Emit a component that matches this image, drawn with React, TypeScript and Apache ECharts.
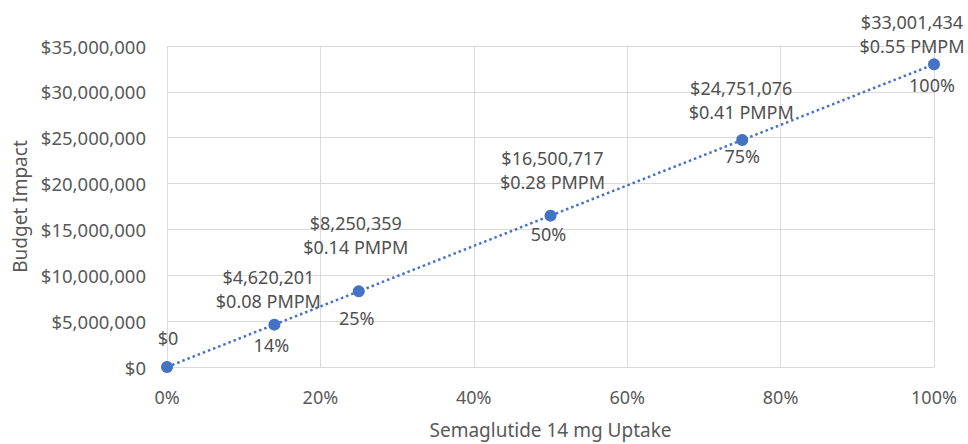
import React, { useEffect, useRef } from "react";
import * as echarts from "echarts";

const uptake = [0, 14, 25, 50, 75, 100];
const budget = [0, 4620201, 8250359, 16500717, 24751076, 33001434];
const pmpm = [null, "0.08", "0.14", "0.28", "0.41", "0.55"];
const yTicks = [0, 5000000, 10000000, 15000000, 20000000, 25000000, 30000000, 35000000];

// label centre offsets (pixels) from each marker, mimicking hand-placed labels
const topNudge: number[][] = [[1, -29], [-6, -36], [-3, -56], [2, -46], [-1, -40], [-22, -30]];
const bottomNudge: number[][] = [[0, 20], [-3, 20], [-2, 27], [-2, 18], [0, 16], [-2, 21]];

const fmtMoney = (v: number) => "$" + Math.round(v).toLocaleString("en-US");

export default function App() {
  const ref = useRef<HTMLDivElement>(null);
  useEffect(() => {
    const chart = echarts.init(ref.current!, null, { renderer: "svg" });
    const font = "'Noto Sans', sans-serif";
    const blue = "#4472C4";
    const textColor = "#505050";
    const topData = uptake.map((u, i) => ({
      value: [u, budget[i]],
      label: {
        offset: topNudge[i],
        formatter: pmpm[i] ? `${fmtMoney(budget[i])}\n$${pmpm[i]} PMPM` : fmtMoney(budget[i]),
      },
    }));
    const bottomData = uptake.map((u, i) => ({
      value: [u, budget[i]],
      label: { offset: bottomNudge[i], show: i > 0 },
    }));
    chart.setOption({
      animation: false,
      grid: { left: 167, right: 34, top: 46, bottom: 72 },
      xAxis: {
        type: "value",
        min: 0,
        max: 100,
        interval: 20,
        name: "Semaglutide 14 mg Uptake",
        nameLocation: "middle",
        nameGap: 53,
        nameTextStyle: { fontFamily: font, fontSize: 19, color: "#595959" },
        axisLine: { show: true, lineStyle: { color: "#d9d9d9" } },
        axisTick: { show: false },
        axisLabel: { formatter: (v: number) => v + "%", fontFamily: font, fontSize: 18, color: "#595959", margin: 21 },
        splitLine: { show: true, lineStyle: { color: "#d9d9d9" } },
      },
      yAxis: {
        type: "value",
        min: 0,
        max: 35000000,
        interval: 5000000,
        name: "Budget Impact",
        nameLocation: "middle",
        nameGap: 137,
        nameTextStyle: { fontFamily: font, fontSize: 19, color: "#595959" },
        axisLine: { show: false },
        axisTick: { show: false },
        axisLabel: {
          formatter: (v: number) => (yTicks.includes(v) ? fmtMoney(v) : ""),
          fontFamily: font,
          fontSize: 18.5,
          color: "#595959",
          margin: 21,
        },
        splitLine: { show: true, lineStyle: { color: "#d9d9d9" } },
      },
      series: [
        {
          type: "line",
          data: [
            [uptake[0], budget[0]],
            [uptake[uptake.length - 1], budget[budget.length - 1]],
          ],
          symbol: "none",
          lineStyle: { color: blue, width: 2.5, type: [2.5, 3] },
          z: 1,
          silent: true,
        },
        {
          type: "scatter",
          data: topData,
          symbolSize: 12,
          itemStyle: { color: blue, opacity: 1 },
          z: 3,
          label: {
            show: true,
            position: "inside",
            fontFamily: font,
            fontSize: 18,
            lineHeight: 24,
            color: textColor,
          },
        },
        {
          type: "scatter",
          data: bottomData,
          symbolSize: 0,
          itemStyle: { color: "transparent", opacity: 1 },
          z: 4,
          label: {
            show: true,
            position: "inside",
            formatter: (p: any) => p.value[0] + "%",
            fontFamily: font,
            fontSize: 18,
            color: textColor,
          },
        },
      ],
    });
    return () => chart.dispose();
  }, []);
  return <div ref={ref} style={{ position: "fixed", left: 0, top: 0, width: 968, height: 444, background: "#fff" }} />;
}
